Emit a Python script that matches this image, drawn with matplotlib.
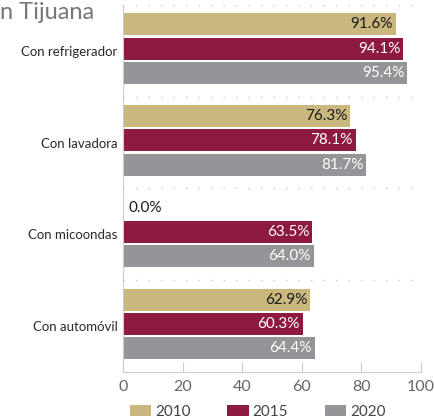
import numpy as np
import matplotlib
matplotlib.use("Agg")
import matplotlib.pyplot as plt
from matplotlib.patches import Patch

plt.rcParams['font.family'] = ['Lato', 'DejaVu Sans']

categories = ["Con refrigerador", "Con lavadora", "Con micoondas", "Con automóvil"]
years = ["2010", "2015", "2020"]
v2010 = [91.6, 76.3, 0.0, 62.9]
v2015 = [94.1, 78.1, 63.5, 60.3]
v2020 = [95.4, 81.7, 64.0, 64.4]
xticks = [0, 20, 40, 60, 80, 100]

colors = ["#C9B77E", "#8E1A3F", "#939598"]
text_colors = ["#1a1a1a", "white", "white"]
offsets = [-0.29, -0.025, 0.24]
bar_h = 0.24

fig = plt.figure(figsize=(4.34, 4.2), dpi=100)
ax = fig.add_axes([0.2834, 0.1143, 0.6866, 0.8738])

y = np.arange(len(categories))
for vals, col, tcol, off in zip([v2010, v2015, v2020], colors, text_colors, offsets):
    ax.barh(y + off, vals, height=bar_h, color=col, zorder=2)
    for yi, v in zip(y, vals):
        label = f"{v:.1f}%"
        if v > 5:
            ax.text(v - 1, yi + off, label, ha="right", va="center",
                    color=tcol, fontsize=11, zorder=3)
        else:
            ax.text(v + 2, yi + off, label, ha="left", va="center",
                    color="#1a1a1a", fontsize=11, zorder=3)

# dotted separators between categories
for b in np.arange(-0.5, len(categories) - 0.5, 1.0):
    ax.axhline(b, color="#c8c8c8", lw=1.0, ls=(0, (1, 8)), zorder=1)

ax.set_ylim(len(categories) - 0.5, -0.5)
ax.set_xlim(0, 100)
ax.set_yticks(y)
ax.set_yticklabels(categories, fontsize=9.5, color="#2a2a2a")
ax.set_xticks(xticks)
ax.set_xticklabels([str(t) for t in xticks], fontsize=11.5, color="#666666")
ax.tick_params(axis="y", length=0, pad=4)
ax.tick_params(axis="x", direction="in", length=7, color="#cccccc", pad=6)
for s in ["top", "right"]:
    ax.spines[s].set_visible(False)
ax.spines["left"].set_color("#cccccc")
ax.spines["bottom"].set_color("#cccccc")

fig.text(0.0, 0.955, "n Tijuana", fontsize=17, color="#777777", ha="left", va="baseline")

handles = [Patch(facecolor=c) for c in colors]
fig.legend(handles, years, loc="lower center", bbox_to_anchor=(0.594, -0.03), ncol=3,
           frameon=False, fontsize=11, handlelength=1.4, handleheight=0.8,
           columnspacing=2.4, handletextpad=0.25, labelcolor="#444444")

fig.savefig("out.png", dpi=100)
